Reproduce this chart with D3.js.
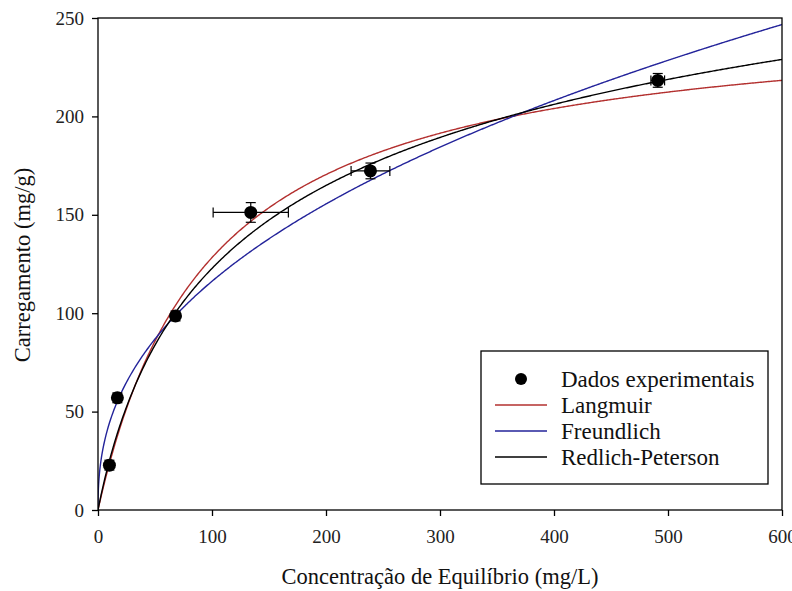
<!DOCTYPE html>
<html>
<head>
<meta charset="utf-8">
<script src="https://cdn.jsdelivr.net/npm/d3@7"></script>
<style>
  html, body { margin: 0; padding: 0; background: #fff; }
  svg { display: block; font-family: "Liberation Serif", "Times New Roman", serif; }
</style>
</head>
<body>
<svg id="chart" width="792" height="591"></svg>
<script>
// Experimental equilibrium data: concentration (mg/L), loading (mg/g) and their errors
const concentration = [10, 17, 68, 134, 239, 491];
const loading = [22.8, 57, 98.6, 151.2, 172.3, 218.3];
const concErr = [2, 3, 3, 33, 17, 6];
const loadErr = [2.5, 2.5, 2.5, 5, 4, 3.5];

// Fitted isotherm parameters
const langmuirParams = { qm: 254, K: 0.0102 };
const freundlichParams = { Kf: 16.8, invN: 0.42 };
const redlichParams = { K: 3.0, a: 0.02627, beta: 0.87 };

const xTicks = [0, 100, 200, 300, 400, 500, 600];
const yTicks = [0, 50, 100, 150, 200, 250];

const seriesNames = ["Dados experimentais", "Langmuir", "Freundlich", "Redlich-Peterson"];
const seriesColors = ["#000000", "#b3302f", "#23239a", "#000000"];

const models = [
  c => langmuirParams.qm * langmuirParams.K * c / (1 + langmuirParams.K * c),
  c => freundlichParams.Kf * Math.pow(c, freundlichParams.invN),
  c => redlichParams.K * c / (1 + redlichParams.a * Math.pow(c, redlichParams.beta))
];

const svg = d3.select("#chart");
const plotL = 98, plotR = 782, plotT = 18, plotB = 510;
const serif = "Liberation Serif, Times New Roman, serif";

const x = d3.scaleLinear().domain([0, 600]).range([plotL, plotR]);
const y = d3.scaleLinear().domain([0, 250]).range([plotB, plotT]);

// Sample concentrations: dense near zero where Freundlich rises steeply
const samples = d3.range(0, 5, 0.05).concat(d3.range(5, 600.01, 1));

svg.append("clipPath").attr("id", "plotclip")
  .append("rect").attr("x", plotL).attr("y", plotT).attr("width", plotR - plotL).attr("height", plotB - plotT);

const line = d3.line().x(d => x(d[0])).y(d => y(d[1]));
const plot = svg.append("g").attr("clip-path", "url(#plotclip)");

models.forEach((f, i) => {
  plot.append("path")
    .attr("d", line(samples.map(c => [c, f(c)])))
    .attr("fill", "none")
    .attr("stroke", seriesColors[i + 1])
    .attr("stroke-width", 1.4);
});

// Error bars
const pts = concentration.map((c, i) => ({ c, q: loading[i], ex: concErr[i], ey: loadErr[i] }));
const eb = svg.append("g").attr("stroke", "#000").attr("stroke-width", 1.2);
const cap = 5;
pts.forEach(p => {
  eb.append("line").attr("x1", x(p.c - p.ex)).attr("x2", x(p.c + p.ex)).attr("y1", y(p.q)).attr("y2", y(p.q));
  eb.append("line").attr("x1", x(p.c - p.ex)).attr("x2", x(p.c - p.ex)).attr("y1", y(p.q) - cap).attr("y2", y(p.q) + cap);
  eb.append("line").attr("x1", x(p.c + p.ex)).attr("x2", x(p.c + p.ex)).attr("y1", y(p.q) - cap).attr("y2", y(p.q) + cap);
  eb.append("line").attr("x1", x(p.c)).attr("x2", x(p.c)).attr("y1", y(p.q - p.ey)).attr("y2", y(p.q + p.ey));
  eb.append("line").attr("x1", x(p.c) - cap).attr("x2", x(p.c) + cap).attr("y1", y(p.q - p.ey)).attr("y2", y(p.q - p.ey));
  eb.append("line").attr("x1", x(p.c) - cap).attr("x2", x(p.c) + cap).attr("y1", y(p.q + p.ey)).attr("y2", y(p.q + p.ey));
});

svg.append("g").selectAll("circle").data(pts).join("circle")
  .attr("cx", d => x(d.c)).attr("cy", d => y(d.q)).attr("r", 6.5).attr("fill", "#000");

// Frame
svg.append("rect").attr("x", plotL).attr("y", plotT).attr("width", plotR - plotL).attr("height", plotB - plotT)
  .attr("fill", "none").attr("stroke", "#000").attr("stroke-width", 1.3);

// Axes
const xAxis = svg.append("g").attr("transform", `translate(0,${plotB})`)
  .call(d3.axisBottom(x).tickValues(xTicks).tickSize(6).tickPadding(14).tickFormat(d3.format("d")));
const yAxis = svg.append("g").attr("transform", `translate(${plotL},0)`)
  .call(d3.axisLeft(y).tickValues(yTicks).tickSize(6).tickPadding(8).tickFormat(d3.format("d")));
[xAxis, yAxis].forEach(a => {
  a.select(".domain").remove();
  a.selectAll("line").attr("stroke", "#000").attr("stroke-width", 1.3);
  a.selectAll("text").attr("font-family", serif).attr("font-size", 19).attr("fill", "#222");
});

// Axis titles
svg.append("text").attr("x", 440).attr("y", 584).attr("text-anchor", "middle")
  .attr("font-family", serif).attr("font-size", 22.5).attr("fill", "#111")
  .text("Concentração de Equilíbrio (mg/L)");
svg.append("text").attr("transform", "translate(30,265) rotate(-90)").attr("text-anchor", "middle")
  .attr("font-family", serif).attr("font-size", 22.5).attr("fill", "#111")
  .text("Carregamento (mg/g)");

// Legend
const lg = svg.append("g");
lg.append("rect").attr("x", 481).attr("y", 351).attr("width", 287).attr("height", 133)
  .attr("fill", "#fff").attr("stroke", "#000").attr("stroke-width", 1.3);
seriesNames.forEach((name, i) => {
  const cy = 379 + i * 26;
  if (i === 0) {
    lg.append("circle").attr("cx", 521).attr("cy", cy).attr("r", 6).attr("fill", "#000");
  } else {
    lg.append("line").attr("x1", 495).attr("x2", 547).attr("y1", cy).attr("y2", cy)
      .attr("stroke", seriesColors[i]).attr("stroke-width", 1.4);
  }
  lg.append("text").attr("x", 561).attr("y", cy + 7.5)
    .attr("font-family", serif).attr("font-size", 23).attr("fill", "#111").text(name);
});
</script>
</body>
</html>
